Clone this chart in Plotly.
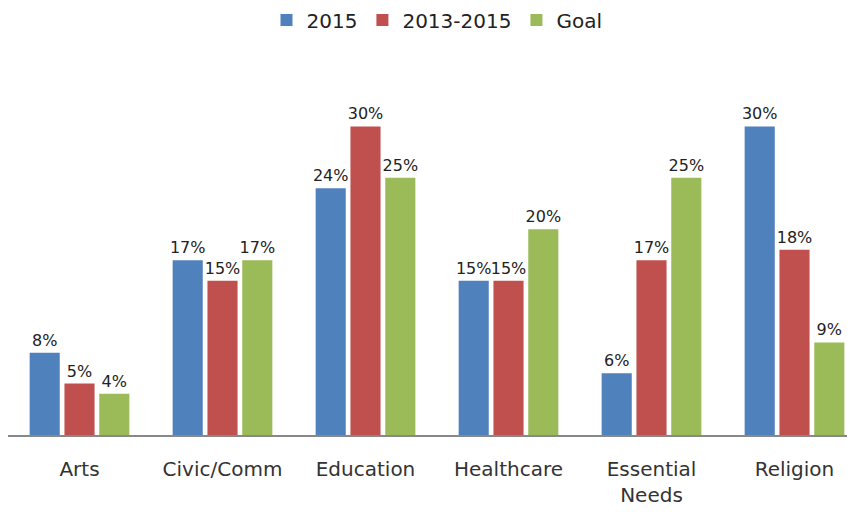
import plotly.graph_objects as go

categories = ["Arts", "Civic/Comm", "Education", "Healthcare", "Essential<br>Needs", "Religion"]
series_names = ["2015", "2013-2015", "Goal"]
values_2015 = [0.08, 0.17, 0.24, 0.15, 0.06, 0.30]
values_2013_2015 = [0.05, 0.15, 0.30, 0.15, 0.17, 0.18]
values_goal = [0.04, 0.17, 0.25, 0.20, 0.25, 0.09]
colors = ["#4F81BD", "#C0504D", "#9BBB59"]

fig = go.Figure()
for name, vals, col in zip(series_names, [values_2015, values_2013_2015, values_goal], colors):
    fig.add_trace(go.Bar(
        x=categories, y=vals, name=name,
        marker=dict(color=col, line=dict(width=0)),
        texttemplate="%{y:.0%}", textposition="outside",
        constraintext="none",
        textfont=dict(family="DejaVu Sans", size=16, color="#222222"),
        cliponaxis=False,
    ))

fig.update_layout(
    width=860, height=512,
    margin=dict(l=0, r=2, t=67, b=85, autoexpand=False),
    paper_bgcolor="white", plot_bgcolor="white",
    barmode="group", bargap=0.27, bargroupgap=0.135,
    uniformtext=dict(mode=False),
    legend=dict(orientation="h", x=0.5, xanchor="center", y=1.153, yanchor="middle",
                font=dict(family="DejaVu Sans", size=20, color="#222222"),
                itemwidth=30, traceorder="normal"),
    xaxis=dict(showline=True, linecolor="#888888", linewidth=1.5, ticks="",
               automargin=False,
               tickfont=dict(family="DejaVu Sans", size=20, color="#333333"),
               ticklabelstandoff=15),
    yaxis=dict(range=[0, 0.35], visible=False, showgrid=False, automargin=False),
)
fig.write_html("out.html")
